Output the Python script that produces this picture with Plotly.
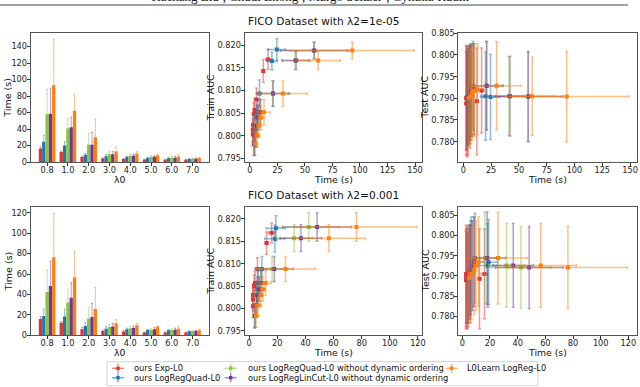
import plotly.graph_objects as go

# lambda0 values on the x axis of the bar charts
lam0 = ['0.8', '1.0', '2.0', '3.0', '4.0', '5.0', '6.0', '7.0']

methods = [
    'ours Exp-L0',
    'ours LogRegQuad-L0',
    'ours LogRegQuad-L0 without dynamic ordering',
    'ours LogRegLinCut-L0 without dynamic ordering',
    'L0Learn LogReg-L0',
]
colors = ['#e2342d', '#1f77b4', '#8cc43c', '#6b3a99', '#ff7f0e']

# ---- lambda2 = 1e-05 ----
time_mean_a = [
    [16.5, 12.2, 6.0, 4.2, 3.6, 2.8, 2.6, 2.6],
    [24.5, 20.0, 8.7, 7.0, 6.0, 5.0, 4.5, 3.6],
    [58.0, 41.0, 21.0, 9.5, 7.5, 6.2, 5.3, 4.0],
    [58.5, 42.0, 21.0, 9.5, 7.5, 6.5, 5.3, 4.0],
    [93.0, 62.0, 30.0, 12.8, 10.0, 8.0, 6.8, 4.8],
]
time_std_a = [
    [2.0, 1.0, 1.0, 0.8, 0.6, 0.5, 0.5, 0.5],
    [8.0, 4.5, 1.8, 2.0, 1.2, 1.0, 1.0, 0.6],
    [30.0, 12.0, 14.0, 3.5, 2.0, 1.2, 1.5, 1.0],
    [31.0, 12.5, 15.0, 3.5, 2.0, 1.2, 1.5, 1.0],
    [56.0, 20.0, 22.0, 5.5, 2.5, 1.2, 2.0, 1.0],
]
train_mean_a = [
    [0.8168, 0.8143, 0.8080, 0.8057, 0.8048, 0.8023, 0.8013, 0.8003],
    [0.8190, 0.8165, 0.8093, 0.8052, 0.8040, 0.8022, 0.8000, 0.7982],
    [0.8188, 0.8166, 0.8093, 0.8052, 0.8040, 0.8022, 0.8000, 0.7982],
    [0.8188, 0.8166, 0.8093, 0.8052, 0.8040, 0.8022, 0.8000, 0.7982],
    [0.8188, 0.8166, 0.8093, 0.8052, 0.8040, 0.8022, 0.8000, 0.7982],
]
train_std_a = [
    [0.0022, 0.0025, 0.0025, 0.0025, 0.0025, 0.0025, 0.0025, 0.0025],
    [0.0024, 0.0020, 0.0030, 0.0028, 0.0027, 0.0025, 0.0025, 0.0026],
    [0.0018, 0.0020, 0.0028, 0.0028, 0.0027, 0.0025, 0.0025, 0.0025],
    [0.0018, 0.0020, 0.0028, 0.0028, 0.0027, 0.0025, 0.0025, 0.0025],
    [0.0018, 0.0020, 0.0028, 0.0028, 0.0027, 0.0025, 0.0025, 0.0025],
]
test_mean_a = [
    [0.7918, 0.7893, 0.7905, 0.7895, 0.7890, 0.7902, 0.7888, 0.7900],
    [0.7903, 0.7905, 0.7929, 0.7921, 0.7917, 0.7912, 0.7905, 0.7900],
    [0.7904, 0.7905, 0.7929, 0.7921, 0.7917, 0.7912, 0.7905, 0.7900],
    [0.7904, 0.7905, 0.7929, 0.7921, 0.7917, 0.7912, 0.7905, 0.7900],
    [0.7904, 0.7905, 0.7929, 0.7921, 0.7917, 0.7912, 0.7905, 0.7900],
]
test_std_a = [
    [0.0098, 0.0123, 0.0120, 0.0125, 0.0125, 0.0120, 0.0120, 0.0120],
    [0.0098, 0.0102, 0.0102, 0.0105, 0.0105, 0.0108, 0.0110, 0.0110],
    [0.0103, 0.0091, 0.0102, 0.0105, 0.0105, 0.0108, 0.0110, 0.0110],
    [0.0104, 0.0092, 0.0102, 0.0105, 0.0105, 0.0108, 0.0110, 0.0110],
    [0.0104, 0.0090, 0.0102, 0.0105, 0.0105, 0.0108, 0.0110, 0.0110],
]

# ---- lambda2 = 0.001 ----
time_mean_b = [
    [16.0, 12.4, 5.9, 4.2, 3.6, 2.7, 2.7, 2.7],
    [19.0, 18.3, 9.1, 6.5, 5.9, 5.2, 4.9, 3.9],
    [42.4, 32.0, 16.3, 8.2, 6.8, 5.5, 5.2, 3.9],
    [48.3, 36.8, 17.9, 8.5, 7.2, 5.9, 5.5, 4.2],
    [76.3, 56.7, 25.8, 11.7, 9.8, 8.5, 6.5, 4.9],
]
time_std_b = [
    [2.3, 1.0, 1.6, 1.0, 0.9, 0.5, 0.6, 0.5],
    [6.8, 7.1, 3.6, 2.0, 1.1, 0.8, 0.8, 0.5],
    [21.6, 13.0, 11.1, 2.6, 1.7, 1.5, 1.3, 0.8],
    [24.4, 14.7, 13.4, 3.2, 1.8, 1.6, 1.5, 0.8],
    [43.0, 25.8, 21.2, 3.9, 1.9, 1.0, 2.0, 1.1],
]
train_mean_b = [
    [0.8169, 0.8146, 0.8088, 0.8057, 0.8050, 0.8030, 0.8020, 0.8005],
    [0.8179, 0.8156, 0.8088, 0.8057, 0.8043, 0.8030, 0.8007, 0.7983],
    [0.8182, 0.8157, 0.8088, 0.8057, 0.8043, 0.8030, 0.8007, 0.7983],
    [0.8182, 0.8157, 0.8088, 0.8057, 0.8043, 0.8030, 0.8007, 0.7983],
    [0.8182, 0.8157, 0.8088, 0.8057, 0.8043, 0.8030, 0.8007, 0.7983],
]
train_std_b = [
    [0.0022, 0.0025, 0.0025, 0.0025, 0.0025, 0.0025, 0.0025, 0.0025],
    [0.0028, 0.0030, 0.0028, 0.0027, 0.0027, 0.0025, 0.0025, 0.0027],
    [0.0032, 0.0030, 0.0028, 0.0027, 0.0027, 0.0025, 0.0025, 0.0025],
    [0.0032, 0.0030, 0.0028, 0.0027, 0.0027, 0.0025, 0.0025, 0.0025],
    [0.0032, 0.0030, 0.0028, 0.0027, 0.0027, 0.0025, 0.0025, 0.0025],
]
test_mean_b = [
    [0.7905, 0.7893, 0.7905, 0.7900, 0.7895, 0.7905, 0.7890, 0.7895],
    [0.7934, 0.7926, 0.7944, 0.7935, 0.7925, 0.7915, 0.7905, 0.7895],
    [0.7921, 0.7926, 0.7944, 0.7935, 0.7925, 0.7915, 0.7905, 0.7895],
    [0.7921, 0.7926, 0.7944, 0.7935, 0.7925, 0.7915, 0.7905, 0.7895],
    [0.7921, 0.7926, 0.7944, 0.7935, 0.7925, 0.7915, 0.7905, 0.7895],
]
test_std_b = [
    [0.0110, 0.0123, 0.0120, 0.0125, 0.0125, 0.0120, 0.0120, 0.0120],
    [0.0105, 0.0103, 0.0110, 0.0110, 0.0110, 0.0110, 0.0110, 0.0110],
    [0.0101, 0.0103, 0.0113, 0.0110, 0.0110, 0.0110, 0.0110, 0.0110],
    [0.0101, 0.0103, 0.0113, 0.0110, 0.0110, 0.0110, 0.0110, 0.0110],
    [0.0101, 0.0103, 0.0113, 0.0110, 0.0110, 0.0110, 0.0110, 0.0110],
]

row_titles = ['FICO Dataset with λ2=1e-05', 'FICO Dataset with λ2=0.001']

W, H = 640, 387
FONT = 'DejaVu Sans'


def px(x):
    return x / W


def py(y):
    return 1 - y / H


def rgba(hex_color, a):
    h = hex_color.lstrip('#')
    r, g, b = int(h[0:2], 16), int(h[2:4], 16), int(h[4:6], 16)
    return f'rgba({r},{g},{b},{a})'


fig = go.Figure()

rows = [
    (time_mean_a, time_std_a, train_mean_a, train_std_a, test_mean_a, test_std_a),
    (time_mean_b, time_std_b, train_mean_b, train_std_b, test_mean_b, test_std_b),
]

for r, (tm, ts, trm, trs, tem, tes) in enumerate(rows):
    ax_bar = 3 * r + 1
    ax_tr = 3 * r + 2
    ax_te = 3 * r + 3
    for i, name in enumerate(methods):
        c = colors[i]
        fig.add_trace(go.Bar(
            x=lam0, y=tm[i], name=name, marker_color=c, marker_line_width=0,
            error_y=dict(type='data', array=ts[i], color=rgba(c, 0.5), thickness=1, width=1),
            xaxis=f'x{ax_bar}', yaxis=f'y{ax_bar}', showlegend=False,
            offsetgroup=str(i),
        ))
    for ax, m, s in [(ax_tr, trm, trs), (ax_te, tem, tes)]:
        for i, name in enumerate(methods):
            c = colors[i]
            fig.add_trace(go.Scatter(
                x=tm[i], y=m[i], mode='markers', name=name,
                marker=dict(symbol='square', size=4, color=c),
                error_x=dict(type='data', array=ts[i], color=rgba(c, 0.5), thickness=1.5, width=1.5),
                error_y=dict(type='data', array=s[i], color=rgba(c, 0.5), thickness=1.5, width=1.5),
                xaxis=f'x{ax}', yaxis=f'y{ax}', showlegend=False,
            ))

# panel positions in pixels: (left, right) per column, (top, bottom) per row
cols_px = [(30.7, 209.0), (244.5, 421.6), (458.3, 636.7)]
rows_px = [(33.3, 162.0), (207.3, 335.3)]

x_ranges = [
    [[-0.79, 7.79], [-4.9, 156], [-4.5, 156]],
    [[-0.79, 7.79], [-3.3, 122.6], [-2.9, 126]],
]
y_ranges = [
    [[0, 156], [0.7942, 0.8226], [0.7753, 0.8050]],
    [[0, 125.3], [0.7940, 0.8226], [0.7754, 0.8069]],
]
x_dtick = [[None, 25, 25], [None, 20, 20]]
y_dtick = [[20, 0.005, 0.005], [20, 0.005, 0.005]]

axis_style = dict(
    showline=True, mirror=True, linecolor='#555', linewidth=1,
    ticks='outside', ticklen=3, tickwidth=1, tickcolor='#333',
    showgrid=False, zeroline=False, automargin=False,
    tickfont=dict(family=FONT, size=8.2, color='#222'),
)

layout = {}
for r in range(2):
    for c in range(3):
        k = 3 * r + c + 1
        xs = '' if k == 1 else str(k)
        xa = dict(axis_style, domain=[px(cols_px[c][0]), px(cols_px[c][1])],
                  range=x_ranges[r][c], anchor=f'y{k}', ticklabelstandoff=-3)
        ya = dict(axis_style, domain=[py(rows_px[r][1]), py(rows_px[r][0])],
                  range=y_ranges[r][c], anchor=f'x{k}', dtick=y_dtick[r][c],
                  ticklabelstandoff=-2)
        if c == 0:
            xa['type'] = 'category'
        else:
            xa['dtick'] = x_dtick[r][c]
            ya['tickformat'] = '.3f'
        layout[f'xaxis{xs}'] = xa
        layout[f'yaxis{xs}'] = ya

fig.update_layout(**layout)

annotations = []
shapes = []


def note(text, x, y, size, xanchor='center', angle=0, family=FONT):
    annotations.append(dict(
        text=text, x=px(x), y=py(y), xref='paper', yref='paper',
        xanchor=xanchor, yanchor='middle', showarrow=False, textangle=angle,
        font=dict(family=family, size=size, color='#111'),
    ))


# axis titles and row titles
y_titles = ['Time (s)', 'Train AUC', 'Test AUC']
y_title_x = [8, 210.5, 425]
x_titles = ['λ0', 'Time (s)', 'Time (s)']
for r in range(2):
    top, bot = rows_px[r]
    for c in range(3):
        left, right = cols_px[c]
        note(y_titles[c], y_title_x[c], (top + bot) / 2, 9.5, angle=-90)
        note(x_titles[c], (left + right) / 2, bot + 17, 9.3)
    note(row_titles[r], 323.5, top - 12.6, 10.6)

# clipped running header of the page
note('Jiachang Liu¹, Chudi Zhong¹, Margo Seltzer², Cynthia Rudin¹', 312, -3.5, 13,
     family='Liberation Serif')
shapes.append(dict(type='line', xref='paper', yref='paper',
                   x0=0, x1=px(628), y0=py(5), y1=py(5),
                   line=dict(color='#444', width=1)))

# legend box drawn by hand (two rows, three columns)
shapes.append(dict(type='rect', xref='paper', yref='paper',
                   x0=px(107), x1=px(538), y0=py(361.7), y1=py(385.7),
                   line=dict(color='#d0d0d0', width=1), fillcolor='white'))
leg_sym_x = [118, 118, 230.7, 230.7, 451.7]
leg_txt_x = [131.7, 131.7, 246, 246, 465]
leg_y = [368.3, 377.7, 368.3, 377.7, 368.3]
for i, name in enumerate(methods):
    cx, cy = leg_sym_x[i], leg_y[i]
    col = colors[i]
    shapes.append(dict(type='line', xref='paper', yref='paper',
                       x0=px(cx - 6), x1=px(cx + 6), y0=py(cy), y1=py(cy),
                       line=dict(color=rgba(col, 0.6), width=1.5)))
    shapes.append(dict(type='line', xref='paper', yref='paper',
                       x0=px(cx), x1=px(cx), y0=py(cy - 4.5), y1=py(cy + 4.5),
                       line=dict(color=rgba(col, 0.6), width=1.5)))
    shapes.append(dict(type='rect', xref='paper', yref='paper',
                       x0=px(cx - 1.7), x1=px(cx + 1.7), y0=py(cy - 1.7), y1=py(cy + 1.7),
                       line=dict(width=0), fillcolor=col))
    note(name, leg_txt_x[i], cy, 8.3, xanchor='left')

fig.update_layout(
    width=W, height=H,
    margin=dict(l=0, r=0, t=0, b=0),
    paper_bgcolor='white', plot_bgcolor='white',
    barmode='group', bargap=0.2, bargroupgap=0,
    annotations=annotations, shapes=shapes,
    showlegend=False,
)

# the page body has a default 8px margin; remove it so the figure fills the window
fig.write_html('out.html', config={'displayModeBar': False},
               post_script="document.body.style.margin='0';")
